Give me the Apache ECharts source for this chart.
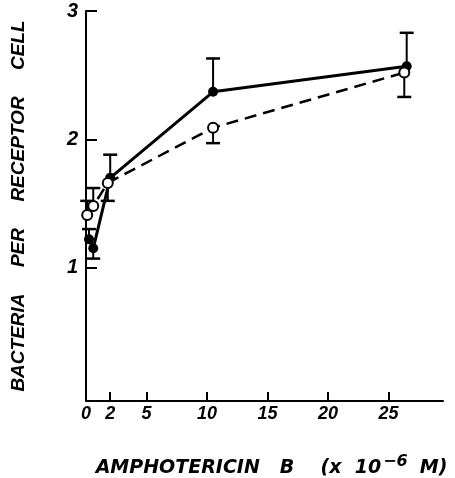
<!DOCTYPE html>
<html>
<head>
<meta charset="utf-8">
<script src="https://cdn.jsdelivr.net/npm/echarts@6/dist/echarts.min.js"></script>
<style>
  html, body { margin: 0; padding: 0; background: #fff; }
  #chart { width: 455px; height: 478px; }
</style>
</head>
<body>
<div id="chart"></div>
<script>
// solid line, filled circles: [x, y]
var filledPts = [[0.25, 1.22], [0.6, 1.15], [2, 1.70], [10.5, 2.37], [26.5, 2.57]];
// dashed line, open circles
var openPts = [[0.1, 1.41], [0.6, 1.48], [1.8, 1.66], [10.5, 2.09], [26.3, 2.52]];
// one sided error bars: [x, y, end]
var filledErr = [[0.25, 1.22, 1.30], [0.6, 1.15, 1.07], [2, 1.70, 1.88], [10.5, 2.37, 2.63], [26.5, 2.57, 2.83]];
var openErr = [[0.1, 1.41, 1.52], [0.6, 1.48, 1.62], [1.8, 1.66, 1.52], [10.5, 2.09, 1.97], [26.3, 2.52, 2.33]];

var xTicks = [2, 5, 10, 15, 20, 25];
var xLabels = [0, 2, 5, 10, 15, 20, 25];
var yTicks = [1, 2, 3];

var myChart = echarts.init(document.getElementById('chart'));

var fontFam = '"Liberation Sans", Arial, sans-serif';
var wideFam = '"DejaVu Sans", sans-serif';

function errBar(params, api) {
    var p0 = api.coord([api.value(0), api.value(1)]);
    var p1 = api.coord([api.value(0), api.value(2)]);
    return {
        type: 'group',
        children: [
            { type: 'line', shape: { x1: p0[0], y1: p0[1], x2: p1[0], y2: p1[1] }, style: { stroke: '#000', lineWidth: 2 } },
            { type: 'line', shape: { x1: p1[0] - 7, y1: p1[1], x2: p1[0] + 7, y2: p1[1] }, style: { stroke: '#000', lineWidth: 2.5 } }
        ]
    };
}

var option = {
    animation: false,
    grid: { left: 86, right: 12, top: 11, bottom: 77, outerBoundsMode: 'none', containLabel: false },
    xAxis: {
        type: 'value',
        min: 0,
        max: 29.5,
        name: '{a|AMPHOTERICIN   B    (x  10}{s|−6}{m|M)}',
        nameLocation: 'middle',
        nameGap: 53,
        nameTextStyle: {
            rich: {
                a: { fontFamily: wideFam, fontStyle: 'italic', fontWeight: 'bold', fontSize: 19, color: '#000', verticalAlign: 'bottom', lineHeight: 24, padding: [0, 0, 0, 14] },
                s: { fontFamily: wideFam, fontStyle: 'italic', fontWeight: 'bold', fontSize: 16, color: '#000', verticalAlign: 'top', padding: [0, 0, 12, 2], lineHeight: 24 },
                m: { fontFamily: wideFam, fontStyle: 'italic', fontWeight: 'bold', fontSize: 19, color: '#000', verticalAlign: 'bottom', lineHeight: 24, padding: [0, 0, 0, 12] }
            }
        },
        axisLine: { onZero: false, lineStyle: { color: '#000', width: 2 } },
        axisTick: { inside: true, length: 9, customValues: xTicks, lineStyle: { color: '#000', width: 2 } },
        axisLabel: {
            customValues: xLabels,
            margin: 4,
            color: '#000',
            fontFamily: fontFam,
            fontStyle: 'italic',
            fontWeight: 'bold',
            fontSize: 18
        },
        splitLine: { show: false }
    },
    yAxis: {
        type: 'value',
        min: -0.04,
        max: 3,
        name: 'BACTERIA     PER     RECEPTOR     CELL',
        nameLocation: 'middle',
        nameGap: 58,
        nameTextStyle: { fontFamily: fontFam, fontStyle: 'italic', fontWeight: 'bold', fontSize: 19, color: '#000' },
        axisLine: { lineStyle: { color: '#000', width: 2 } },
        axisTick: { inside: true, length: 11, customValues: yTicks, lineStyle: { color: '#000', width: 2 } },
        axisLabel: {
            customValues: yTicks,
            margin: 8,
            color: '#000',
            fontFamily: fontFam,
            fontStyle: 'italic',
            fontWeight: 'bold',
            fontSize: 20
        },
        splitLine: { show: false }
    },
    series: [
        {
            type: 'custom',
            renderItem: errBar,
            data: filledErr,
            z: 1
        },
        {
            type: 'custom',
            renderItem: errBar,
            data: openErr,
            z: 1
        },
        {
            name: 'filled',
            type: 'line',
            data: filledPts,
            symbol: 'circle',
            symbolSize: 10,
            lineStyle: { color: '#000', width: 3 },
            itemStyle: { color: '#000' },
            z: 3
        },
        {
            name: 'open',
            type: 'line',
            data: openPts,
            symbol: 'circle',
            symbolSize: 10,
            showAllSymbol: true,
            lineStyle: { color: '#000', width: 2.5, type: [12, 7] },
            itemStyle: { color: '#fff', borderColor: '#000', borderWidth: 2 },
            z: 4
        }
    ]
};

myChart.setOption(option);
</script>
</body>
</html>
